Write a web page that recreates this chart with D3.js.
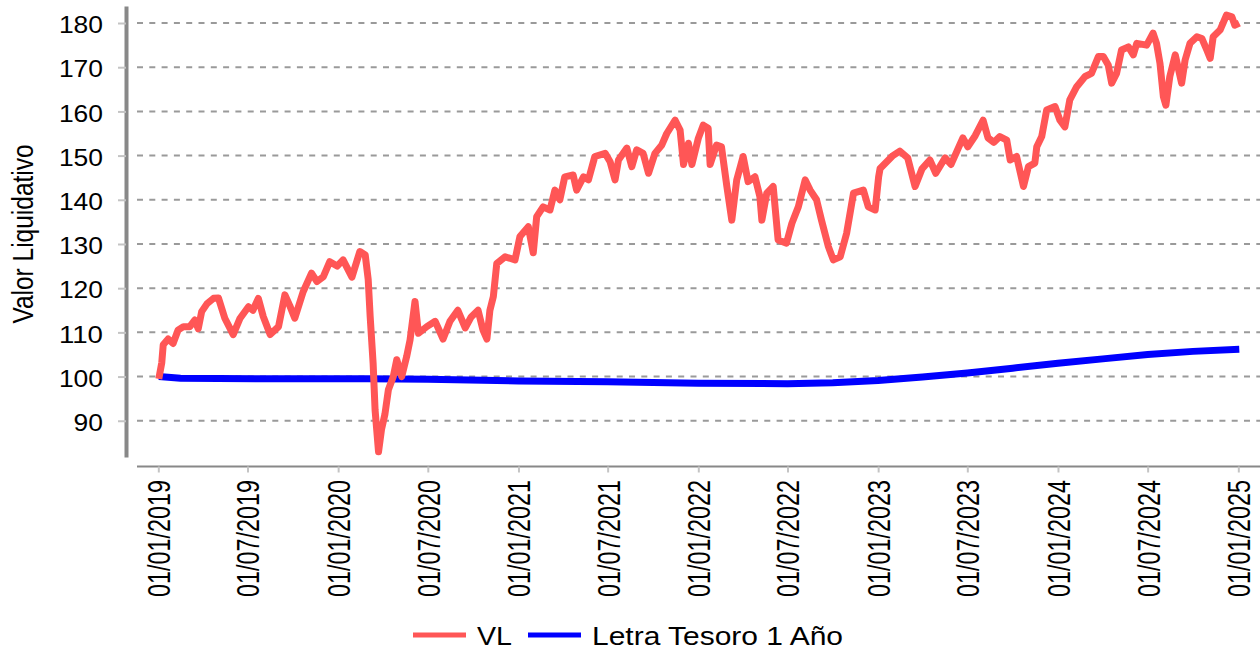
<!DOCTYPE html>
<html lang="es">
<head>
<meta charset="utf-8">
<title>Valor Liquidativo</title>
<script type="text/javascript" src="https://d3js.org/d3.v7.min.js"></script>
<style>
body { margin: 0; background: #ffffff; }
text { font-family: "Liberation Sans", Arial, sans-serif; fill: #000; }
.grid line { stroke: #9a9a9a; stroke-width: 2; stroke-dasharray: 6 6.3; }
</style>
</head>
<body>
<div id="container"></div>
<script type="text/javascript">
// VL (valor liquidativo)
var vlDates = ["2019-01-02","2019-01-08","2019-01-11","2019-01-21","2019-01-31","2019-02-10","2019-02-21","2019-03-06","2019-03-16","2019-03-23",
  "2019-03-30","2019-04-10","2019-04-23","2019-05-03","2019-05-16","2019-06-02","2019-06-16","2019-07-03","2019-07-12","2019-07-23",
  "2019-08-02","2019-08-16","2019-09-02","2019-09-15","2019-09-25","2019-10-05","2019-10-22","2019-11-08","2019-11-19","2019-12-02",
  "2019-12-15","2019-12-30","2020-01-11","2020-01-29","2020-02-14","2020-02-25","2020-03-02","2020-03-06","2020-03-12","2020-03-16",
  "2020-03-23","2020-03-29","2020-04-05","2020-04-12","2020-04-22","2020-04-29","2020-05-09","2020-05-19","2020-05-26","2020-06-05",
  "2020-06-12","2020-06-29","2020-07-16","2020-08-01","2020-08-15","2020-08-31","2020-09-15","2020-09-27","2020-10-11","2020-10-21",
  "2020-10-29","2020-11-04","2020-11-11","2020-11-18","2020-12-05","2020-12-25","2021-01-04","2021-01-21","2021-01-31","2021-02-07",
  "2021-02-20","2021-03-06","2021-03-16","2021-03-26","2021-04-05","2021-04-22","2021-04-29","2021-05-13","2021-05-23","2021-06-05",
  "2021-06-26","2021-07-06","2021-07-16","2021-07-23","2021-08-09","2021-08-19","2021-08-29","2021-09-11","2021-09-22","2021-10-05",
  "2021-10-19","2021-10-29","2021-11-15","2021-11-25","2021-12-02","2021-12-12","2021-12-19","2022-01-01","2022-01-11","2022-01-21",
  "2022-01-25","2022-02-07","2022-02-17","2022-02-28","2022-03-10","2022-03-20","2022-04-02","2022-04-12","2022-04-26","2022-05-06",
  "2022-05-10","2022-05-20","2022-06-02","2022-06-12","2022-06-29","2022-07-10","2022-07-23","2022-08-06","2022-08-16","2022-08-29",
  "2022-09-08","2022-09-22","2022-10-02","2022-10-16","2022-10-29","2022-11-12","2022-12-02","2022-12-12","2022-12-26","2023-01-02",
  "2023-01-05","2023-01-31","2023-02-14","2023-03-02","2023-03-17","2023-03-31","2023-04-16","2023-04-28","2023-05-17","2023-05-29",
  "2023-06-10","2023-06-22","2023-07-02","2023-07-17","2023-08-02","2023-08-12","2023-08-24","2023-09-05","2023-09-19","2023-09-26",
  "2023-10-09","2023-10-23","2023-11-02","2023-11-15","2023-11-19","2023-11-29","2023-12-09","2023-12-26","2024-01-05","2024-01-15",
  "2024-01-25","2024-02-08","2024-02-25","2024-03-09","2024-03-23","2024-04-02","2024-04-12","2024-04-19","2024-04-29","2024-05-09",
  "2024-05-23","2024-06-02","2024-06-09","2024-06-29","2024-07-12","2024-07-19","2024-07-26","2024-08-02","2024-08-07","2024-08-15",
  "2024-08-26","2024-09-08","2024-09-15","2024-09-25","2024-10-09","2024-10-19","2024-10-29","2024-11-05","2024-11-11","2024-11-25",
  "2024-12-08","2024-12-19","2024-12-25","2025-01-03"];
var vlValues = [99.5,103.1,107.2,108.5,107.5,110.5,111.3,111.3,112.8,110.8,
  114.7,116.5,117.7,117.8,113.2,109.5,113.2,115.8,115.0,117.7,
  113.6,109.5,111.3,118.5,116.0,113.2,119.2,123.4,121.5,122.6,
  126.0,125.0,126.4,122.5,128.3,127.5,122.0,113.6,103.0,92.4,
  83.0,88.0,91.5,97.0,100.0,103.8,100.0,104.5,108.3,117.0,
  109.8,111.3,112.5,108.5,112.5,115.0,111.0,113.5,115.0,110.5,
  108.5,115.0,118.1,125.6,127.1,126.4,131.7,133.9,128.0,136.2,
  138.4,137.7,142.2,140.0,145.2,145.6,142.2,145.2,144.5,149.8,
  150.5,148.6,144.5,149.0,151.7,147.5,151.3,150.5,146.0,150.5,
  152.4,155.0,158.0,155.8,148.0,152.8,148.0,153.9,156.9,156.2,
  148.0,152.4,152.0,143.0,135.4,144.5,149.8,144.1,145.2,140.7,
  135.4,141.5,143.0,130.9,130.2,134.7,138.4,144.5,142.2,140.0,
  135.4,129.4,126.4,127.1,132.4,141.5,142.2,138.4,137.7,145.2,
  147.1,150.0,151.0,149.5,143.0,147.0,149.0,146.0,149.5,148.0,
  151.0,154.0,152.0,154.5,158.0,154.0,153.0,154.3,153.5,149.0,
  149.8,143.0,147.5,148.3,152.0,154.3,160.3,161.1,158.0,156.5,
  162.6,165.6,167.9,168.6,172.4,172.4,170.5,166.4,168.6,173.9,
  174.6,172.8,175.4,175.0,177.7,175.4,170.9,163.3,161.4,167.9,
  172.8,166.4,171.6,175.4,176.9,176.5,173.9,172.0,176.9,178.4,
  181.8,181.4,179.5,180.0];

// Letra del Tesoro a 1 año
var letraDates = ["2019-01-02","2019-02-15","2019-09-01","2020-03-01","2020-07-01","2021-01-01","2021-07-01","2022-01-01","2022-07-01",
  "2022-10-01","2023-01-01","2023-04-01","2023-07-01","2023-10-01","2024-01-01","2024-04-01","2024-07-01","2024-10-01","2025-01-03"];
var letraValues = [100.0,99.6,99.5,99.5,99.4,99.0,98.8,98.5,98.4,
  98.6,99.1,99.9,100.8,101.9,103.0,104.0,105.0,105.7,106.2];

var yTicks = [90, 100, 110, 120, 130, 140, 150, 160, 170, 180];
var xTickDates = ["2019-01-01","2019-07-01","2020-01-01","2020-07-01","2021-01-01","2021-07-01","2022-01-01",
  "2022-07-01","2023-01-01","2023-07-01","2024-01-01","2024-07-01","2025-01-01"];
var seriesNames = ["VL", "Letra Tesoro 1 Año"];
var seriesColors = ["#ff5656", "#0000ff"];

var w = 1260, h = 650;
var parse = d3.timeParse("%Y-%m-%d");
var fmt = d3.timeFormat("%d/%m/%Y");

var svg = d3.select("#container").append("svg")
  .attr("width", w).attr("height", h)
  .style("background-color", "#ffffff");

var x = d3.scaleTime().domain([parse("2019-01-01"), parse("2025-01-01")]).range([158.3, 1238.3]);
var y = d3.scaleLinear().domain([81.8, 183.85]).range([457, 6]);

// grid
svg.append("g").attr("class", "grid")
  .selectAll("line").data(yTicks).enter().append("line")
  .attr("x1", 137).attr("x2", w)
  .attr("y1", function(d) { return y(d); }).attr("y2", function(d) { return y(d); });

// y axis
var yAxis = svg.append("g").attr("transform", "translate(126,0)")
  .call(d3.axisLeft(y).tickValues(yTicks).tickSize(8).tickSizeOuter(0).tickPadding(15));
yAxis.select(".domain").attr("stroke", "#888").attr("stroke-width", 4);
yAxis.selectAll(".tick line").attr("stroke", "#c4c4c4").attr("stroke-width", 2);
yAxis.selectAll(".tick text")
  .style("font-size", "23px").attr("dy", "0.42em")
  .attr("textLength", function(d) { return String(d).length * 14.7; })
  .attr("lengthAdjust", "spacingAndGlyphs");

// x axis
svg.append("line").attr("x1", 137).attr("x2", w).attr("y1", 466.5).attr("y2", 466.5)
  .attr("stroke", "#888").attr("stroke-width", 2);
var xAxis = svg.append("g").attr("transform", "translate(0,466.5)")
  .call(d3.axisBottom(x).tickValues(xTickDates.map(parse)).tickFormat(fmt).tickSize(6).tickSizeOuter(0));
xAxis.select(".domain").remove();
xAxis.selectAll(".tick line").attr("stroke", "#c4c4c4").attr("stroke-width", 2);
xAxis.selectAll(".tick text")
  .attr("x", 0).attr("y", 0).attr("dy", null)
  .style("font-size", "23.4px").style("text-anchor", "end")
  .attr("transform", "translate(11.5,13.5) scale(1.37,1) rotate(-90)");

// axis title
svg.append("text")
  .attr("transform", "translate(33,234) scale(1.2,1) rotate(-90)")
  .style("text-anchor", "middle").style("font-size", "24.5px")
  .text("Valor Liquidativo");

// lines
var line = d3.line().x(function(d) { return x(d[0]); }).y(function(d) { return y(d[1]); });
var letraData = letraDates.map(function(d, i) { return [parse(d), letraValues[i]]; });
var vlData = vlDates.map(function(d, i) { return [parse(d), vlValues[i]]; });

svg.append("path").datum(letraData)
  .attr("fill", "none").attr("stroke", seriesColors[1]).attr("stroke-width", 7)
  .attr("d", line);
svg.append("path").datum(vlData)
  .attr("fill", "none").attr("stroke", seriesColors[0]).attr("stroke-width", 7)
  .attr("stroke-linejoin", "round")
  .attr("d", line);

// legend
var legendX = [413, 528];
var legendTextX = [477, 592];
var legendLen = [35, 251];
var legend = svg.append("g");
seriesNames.forEach(function(name, i) {
  legend.append("line")
    .attr("x1", legendX[i]).attr("x2", legendX[i] + 53)
    .attr("y1", 635).attr("y2", 635)
    .attr("stroke", seriesColors[i]).attr("stroke-width", 5);
  legend.append("text")
    .attr("x", legendTextX[i]).attr("y", 645)
    .style("font-size", "26px")
    .attr("textLength", legendLen[i]).attr("lengthAdjust", "spacingAndGlyphs")
    .text(name);
});
</script>
</body>
</html>
